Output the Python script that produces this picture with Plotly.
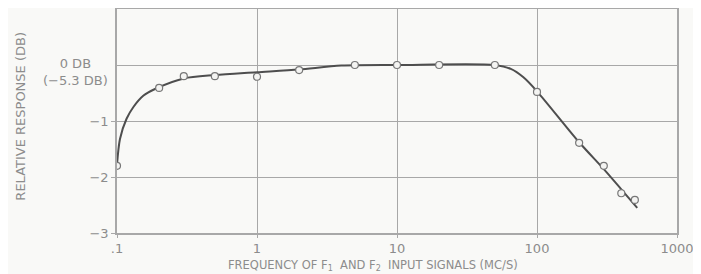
import plotly.graph_objects as go

# measured points (open circles)
freq_pts = [0.1, 0.2, 0.3, 0.5, 1, 2, 5, 10, 20, 50, 100, 200, 300, 400, 500]
resp_pts = [-1.8, -0.41, -0.2, -0.2, -0.21, -0.09, 0.0, 0.0, 0.0, 0.0, -0.48, -1.39, -1.8, -2.29, -2.41]

# smooth drawn response curve
freq_curve = [0.1, 0.105, 0.117, 0.131, 0.154, 0.19, 0.3, 0.5, 1, 2, 4, 10, 50, 65, 80, 100, 200, 300, 400, 520]
resp_curve = [-1.78, -1.32, -0.96, -0.75, -0.55, -0.42, -0.24, -0.18, -0.13, -0.08, -0.01, 0.0, 0.0, -0.07, -0.22, -0.47, -1.38, -1.86, -2.22, -2.55]

x_tickvals = [0.1, 1, 10, 100, 1000]
x_ticktext = [".1", "1", "10", "100", "1000"]
y_tickvals = [-1, -2, -3]
y_ticktext = ["\u22121", "\u22122", "\u22123"]
zero_label = "0 DB<br>(\u22125.3 DB)"
x_title = "FREQUENCY OF F<sub>1</sub>  AND F<sub>2</sub>  INPUT SIGNALS (MC/S)"
y_title = "RELATIVE RESPONSE (DB)"

TXT = "#8c8c8c"
GRID = "#a8a8a8"
LINE = "#4e4e4e"
FONT = "DejaVu Sans, Liberation Sans, sans-serif"

fig = go.Figure()
fig.add_trace(go.Scatter(
    x=freq_curve, y=resp_curve, mode="lines",
    line=dict(color=LINE, width=2, shape="spline", smoothing=0.8),
    hoverinfo="skip", showlegend=False))
fig.add_trace(go.Scatter(
    x=freq_pts, y=resp_pts, mode="markers",
    marker=dict(symbol="circle", size=7, color="#f4f4f2",
                line=dict(color="#777777", width=1.2)),
    showlegend=False))

fig.update_layout(
    width=693, height=266,
    margin=dict(l=109, r=24, t=1, b=41),
    paper_bgcolor="#f9f9f7", plot_bgcolor="#f9f9f7",
    font=dict(family=FONT, size=13, color=TXT),
)
fig.update_xaxes(
    type="log", range=[-1, 3],
    tickvals=x_tickvals, ticktext=x_ticktext,
    showgrid=True, gridcolor=GRID, gridwidth=1,
    showline=True, linecolor=GRID, linewidth=1.5, mirror=True,
    ticks="outside", ticklen=3, tickcolor=GRID,
    tickfont=dict(size=13, color=TXT),
    zeroline=False, automargin=False,
)
fig.update_yaxes(
    range=[-3, 1],
    tickvals=y_tickvals, ticktext=y_ticktext,
    showgrid=True, gridcolor=GRID, gridwidth=1,
    showline=True, linecolor=GRID, linewidth=1.5, mirror=True,
    ticks="outside", ticklen=4, tickcolor=GRID,
    tickfont=dict(size=13, color=TXT),
    zeroline=True, zerolinecolor=GRID, zerolinewidth=1,
    automargin=False,
)

fig.add_annotation(
    text=zero_label, xref="paper", yref="y", x=-0.075, y=0,
    xanchor="center", yanchor="top", yshift=11, showarrow=False,
    align="center", font=dict(family=FONT, size=13, color=TXT))
fig.add_annotation(
    text=y_title, xref="paper", yref="paper", x=-0.173, y=0.52,
    xanchor="center", yanchor="middle", textangle=-90, showarrow=False,
    font=dict(family=FONT, size=13, color=TXT))
fig.add_annotation(
    text=x_title, xref="paper", yref="paper", x=0.457, y=-0.143,
    xanchor="center", yanchor="middle", showarrow=False,
    font=dict(family=FONT, size=11.5, color=TXT))

fig.write_html("out.html")
